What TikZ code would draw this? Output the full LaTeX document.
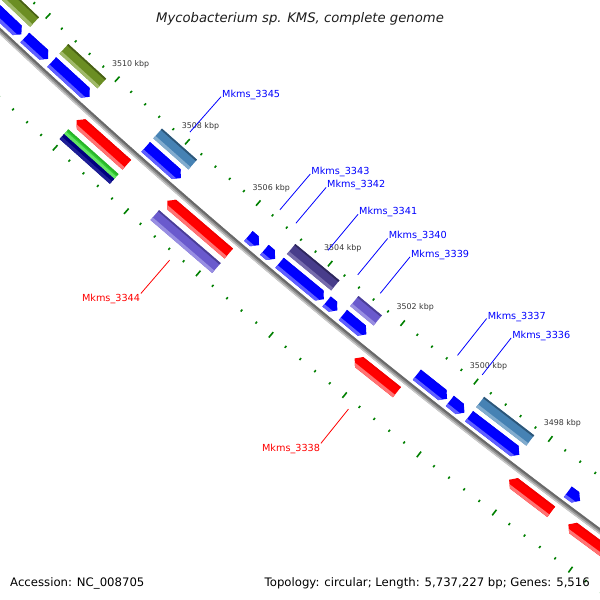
\documentclass[tikz,border=0pt]{standalone}
\usepackage{fontspec}
\setmainfont{DejaVu Sans}
\definecolor{cblue}{RGB}{0,0,255}\definecolor{cblueL}{RGB}{95,95,255}\definecolor{cblueD}{RGB}{0,0,245}
\definecolor{cred}{RGB}{255,0,0}\definecolor{credL}{RGB}{255,115,115}\definecolor{credD}{RGB}{240,0,0}
\definecolor{colive}{RGB}{107,142,35}\definecolor{coliveL}{RGB}{160,185,105}\definecolor{coliveD}{RGB}{72,96,22}
\definecolor{csteel}{RGB}{70,130,180}\definecolor{csteelL}{RGB}{130,172,206}\definecolor{csteelD}{RGB}{45,86,120}
\definecolor{cdslate}{RGB}{72,61,139}\definecolor{cdslateL}{RGB}{118,108,172}\definecolor{cdslateD}{RGB}{46,39,92}
\definecolor{cslate}{RGB}{106,90,205}\definecolor{cslateL}{RGB}{152,142,226}\definecolor{cslateD}{RGB}{74,62,150}
\definecolor{cgreen}{RGB}{50,205,50}\definecolor{cgreenL}{RGB}{100,228,100}\definecolor{cgreenD}{RGB}{40,180,40}
\definecolor{cnavy}{RGB}{0,0,128}\definecolor{cnavyL}{RGB}{30,30,150}\definecolor{cnavyD}{RGB}{0,0,128}
\definecolor{ruler}{RGB}{0,128,0}
\definecolor{kbpc}{RGB}{55,55,55}
\newcommand{\gfeat}[6]{%
 \pgfmathsetmacro{\fmid}{(#3+#4)/2}%
 \pgfmathsetmacro{\fh}{343.77/\fmid}%
 \pgfmathsetmacro{\fae}{#1-0.1}%
 \pgfmathsetmacro{\fbe}{#2+0.1}%
 \pgfmathsetmacro{\fbh}{#2-\fh}%
 \pgfmathsetmacro{\fah}{#1+\fh}%
 \pgfmathsetmacro{\rio}{#3-1}%
 \pgfmathsetmacro{\rii}{#3+1.8}%
 \pgfmathsetmacro{\rli}{#4-3.2}%
 \pgfmathsetmacro{\roo}{#4+1}%
 \begin{scope}
 \ifcase#5\relax
  \clip (#1:#3) -- (#2:#3) -- (#2:#4) -- (#1:#4) -- cycle;
 \or
  \clip (#1:#3) -- (\fbh:#3) -- (#2:\fmid) -- (\fbh:#4) -- (#1:#4) -- cycle;
 \or
  \clip (\fah:#3) -- (#2:#3) -- (#2:#4) -- (\fah:#4) -- (#1:\fmid) -- cycle;
 \fi
 \fill[#6] (\fae:\rio) -- (\fbe:\rio) -- (\fbe:\roo) -- (\fae:\roo) -- cycle;
 \fill[#6L] (\fae:\rli) -- (\fbe:\rli) -- (\fbe:\roo) -- (\fae:\roo) -- cycle;
 \fill[#6D] (\fae:\rio) -- (\fbe:\rio) -- (\fbe:\rii) -- (\fae:\rii) -- cycle;
 \end{scope}}
\tikzset{
 lab/.style={inner sep=0.6pt, font=\fontsize{9.7}{11}\selectfont},
 kbplab/.style={inner sep=0pt, text=kbpc, font=\fontsize{7.9}{9}\selectfont},
 tick/.style={draw=ruler, line width=1.6pt},
 foot/.style={inner sep=0pt, font=\fontsize{11.7}{13}\selectfont}
}
\newcommand{\blab}[3]{%
 \draw[blue, line width=0.8pt] (#2:6677) -- (#2:6630) coordinate (#1e);
 \node[lab, text=blue, anchor=base west, xshift=0.3pt, yshift=-0.5pt] (#1) at (#1e) {#3};}
\newcommand{\rlab}[3]{%
 \draw[red, line width=0.8pt] (#2:6787) -- (#2:6831) coordinate (#1e);
 \node[lab, text=red, anchor=north east, yshift=0.5pt] (#1) at (#1e) {#3};}
\begin{document}
\begin{tikzpicture}[x=1pt,y=1pt]
\useasboundingbox (0,-600) rectangle (600,0);
\fill[white] (0,-600) rectangle (600,0);
\begin{scope}
\clip (0,-600) rectangle (600,0);
\begin{scope}[shift={(4601,4880)}]
 % rulers
 \foreach \i in {0,...,50}{
  \pgfmathsetmacro{\ta}{226.2744+\i*0.16086}
  \pgfmathtruncatemacro{\ism}{mod(\i,5)}
  \ifnum\ism=0
   \draw[tick] (\ta:6682.5) -- (\ta:6689.5);
   \draw[tick] (\ta:6775) -- (\ta:6782);
  \else
   \draw[tick] (\ta:6684.8) -- (\ta:6687.3);
   \draw[tick] (\ta:6777.3) -- (\ta:6779.8);
  \fi
 }
 % kbp labels
 \foreach \k/\nm in {0/3510,1/3508,2/3506,3/3504,4/3502,5/3500,6/3498}{
  \pgfmathsetmacro{\ta}{227.883+\k*0.8043}
  \node[kbplab] (k\nm) at (\ta:6666) {\nm\ kbp};
 }
 % backbone
 \draw[line width=5pt, color={rgb,255:red,150;green,150;blue,150}] (225.5:6730) arc[start angle=225.5, end angle=234.5, radius=6730];
 \draw[line width=2pt, color={rgb,255:red,105;green,105;blue,105}] (225.5:6728.5) arc[start angle=225.5, end angle=234.5, radius=6728.5];
 \draw[line width=1.3pt, color={rgb,255:red,200;green,200;blue,200}] (225.5:6732) arc[start angle=225.5, end angle=234.5, radius=6732];
 % inner COG track
 \gfeat{226.3}{227.03}{6693}{6706}{0}{colive}
 \gfeat{227.37}{227.81}{6693}{6706}{0}{colive}
 \gfeat{228.45}{228.85}{6693}{6706}{0}{csteel}
 \gfeat{229.96}{230.45}{6693}{6706}{0}{cdslate}
 \gfeat{230.66}{230.92}{6693}{6706}{0}{cslate}
 \gfeat{232.04}{232.58}{6693}{6706}{0}{csteel}
 % forward CDS
 \gfeat{226.3}{227.02}{6711}{6724}{1}{cblue}
 \gfeat{227.06}{227.33}{6711}{6724}{1}{cblue}
 \gfeat{227.37}{227.81}{6711}{6724}{1}{cblue}
 \gfeat{228.45}{228.85}{6711}{6724}{1}{cblue}
 \gfeat{229.61}{229.73}{6711}{6724}{1}{cblue}
 \gfeat{229.79}{229.91}{6711}{6724}{1}{cblue}
 \gfeat{229.96}{230.45}{6711}{6724}{1}{cblue}
 \gfeat{230.48}{230.60}{6711}{6724}{1}{cblue}
 \gfeat{230.66}{230.92}{6711}{6724}{1}{cblue}
 \gfeat{231.47}{231.80}{6711}{6724}{1}{cblue}
 \gfeat{231.83}{231.99}{6711}{6724}{1}{cblue}
 \gfeat{232.04}{232.58}{6711}{6724}{1}{cblue}
 \gfeat{233.10}{233.23}{6711}{6724}{1}{cblue}
 % reverse CDS
 \gfeat{227.86}{228.43}{6737}{6750}{2}{cred}
 \gfeat{228.89}{229.58}{6737}{6750}{2}{cred}
 \gfeat{230.97}{231.43}{6737}{6750}{2}{cred}
 \gfeat{232.64}{233.09}{6737}{6750}{2}{cred}
 \gfeat{233.27}{234.0}{6737}{6750}{2}{cred}
 % outer COG track
 \gfeat{227.86}{228.43}{6756}{6762.5}{0}{cgreen}
 \gfeat{227.86}{228.43}{6762.5}{6769}{0}{cnavy}
 \gfeat{228.89}{229.58}{6756}{6769}{0}{cslate}
 % labels
 \blab{l3345}{228.65}{Mkms\_3345}
 \blab{l3343}{229.67}{Mkms\_3343}
 \blab{l3342}{229.85}{Mkms\_3342}
 \blab{l3341}{230.21}{Mkms\_3341}
 \blab{l3340}{230.54}{Mkms\_3340}
 \blab{l3339}{230.79}{Mkms\_3339}
 \blab{l3337}{231.64}{Mkms\_3337}
 \blab{l3336}{231.91}{Mkms\_3336}
 \rlab{l3344}{229.235}{Mkms\_3344}
 \rlab{l3338}{231.2}{Mkms\_3338}
\end{scope}
\end{scope}
\node[inner sep=0pt, text={rgb,255:red,30;green,30;blue,30}, font=\fontsize{13.2}{15}\selectfont\itshape] (title) at (300,-18.5) {Mycobacterium sp. KMS, complete genome};
\node[foot, anchor=base west] (acc) at (10,-586) {Accession: NC\_008705};
\node[foot, anchor=base east] (topo) at (590,-586) {Topology: circular; Length: 5,737,227 bp; Genes: 5,516};
\end{tikzpicture}
\end{document}
